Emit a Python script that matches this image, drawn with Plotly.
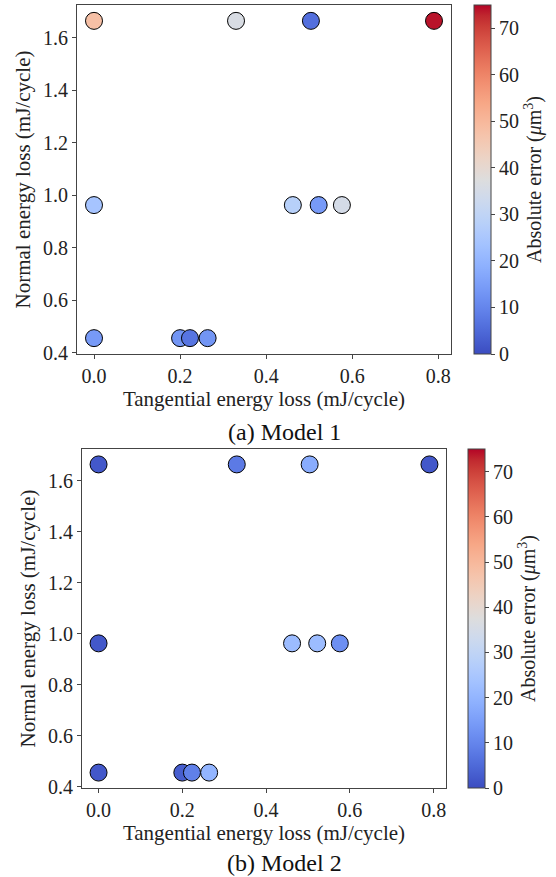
import plotly.graph_objects as go

# ---- data ----
tangential = [0.0, 0.33, 0.504, 0.79, 0.0, 0.462, 0.522, 0.576, 0.0, 0.20, 0.223, 0.264]
normal = [1.665, 1.665, 1.665, 1.665, 0.963, 0.963, 0.963, 0.963, 0.456, 0.456, 0.456, 0.456]
error_model1 = [48, 36, 6, 74, 24, 28, 14, 35, 14, 13, 7, 13]
error_model2 = [2, 8, 18, 2, 2, 22, 22, 12, 2, 3, 9, 20]
captions = ["(a) Model 1", "(b) Model 2"]
xticks = [0.0, 0.2, 0.4, 0.6, 0.8]
yticks = [0.4, 0.6, 0.8, 1.0, 1.2, 1.4, 1.6]
cbar_ticks = [0, 10, 20, 30, 40, 50, 60, 70]
cmin, cmax = 0, 75

W, H = 556, 877
FONT = "Liberation Serif, Times New Roman, serif"

coolwarm_rgb = [
    (59, 76, 192), (68, 90, 204), (77, 104, 215), (87, 117, 225), (98, 130, 234),
    (108, 142, 241), (119, 154, 247), (130, 165, 251), (141, 176, 254), (152, 185, 255),
    (163, 194, 255), (174, 201, 253), (184, 208, 249), (194, 213, 244), (204, 217, 238),
    (213, 219, 230), (221, 221, 221), (229, 216, 209), (236, 211, 197), (241, 204, 184),
    (245, 196, 172), (247, 187, 159), (247, 177, 147), (247, 167, 134), (244, 154, 123),
    (241, 141, 111), (236, 127, 99), (229, 112, 89), (222, 96, 78), (213, 80, 68),
    (203, 62, 56), (192, 40, 47), (180, 4, 38)]
n = len(coolwarm_rgb) - 1
coolwarm = [[i / n, "rgb(%d,%d,%d)" % c] for i, c in enumerate(coolwarm_rgb)]


def padded(vals, frac=0.05):
    lo, hi = min(vals), max(vals)
    p = (hi - lo) * frac
    return [lo - p, hi + p]


xr = padded(tangential)
yr = padded(normal)

# pixel boxes
panels = [
    dict(l=77, r=451, t=5, b=354, cbl=474, cap_y=432),
    dict(l=82, r=446, t=449, b=788, cbl=468, cap_y=863),
]

fig = go.Figure()
errs = [error_model1, error_model2]
for i, p in enumerate(panels):
    k = "" if i == 0 else str(i + 1)
    ca = "coloraxis" + k
    fig.add_trace(go.Scatter(
        x=tangential, y=normal, mode="markers",
        xaxis="x" + k, yaxis="y" + k,
        marker=dict(size=17, color=errs[i], coloraxis=ca,
                    line=dict(color="black", width=1)),
        showlegend=False, hoverinfo="skip"))
    xd = [p["l"] / W, p["r"] / W]
    yd = [1 - p["b"] / H, 1 - p["t"] / H]
    axcommon = dict(showline=True, mirror=True, linecolor="#444", linewidth=1,
                    ticks="outside", ticklen=4, tickcolor="#444", showgrid=False,
                    zeroline=False, tickfont=dict(family=FONT, size=20, color="#222"))
    fig.update_layout(**{
        "xaxis" + k: dict(domain=xd, range=xr, anchor="y" + k, tickvals=xticks,
                          ticktext=["%.1f" % v for v in xticks],
                          title=dict(text="Tangential energy loss (mJ/cycle)",
                                     font=dict(family=FONT, size=21, color="#222"), standoff=2),
                          **axcommon),
        "yaxis" + k: dict(domain=yd, range=yr, anchor="x" + k, tickvals=yticks,
                          ticktext=["%.1f" % v for v in yticks],
                          title=dict(text="Normal energy loss (mJ/cycle)",
                                     font=dict(family=FONT, size=21, color="#222"), standoff=6),
                          **axcommon),
        ca: dict(cmin=cmin, cmax=cmax, colorscale=coolwarm,
                 colorbar=dict(x=p["cbl"] / W, xanchor="left", xref="paper",
                               y=(yd[0] + yd[1]) / 2, yanchor="middle",
                               len=yd[1] - yd[0], lenmode="fraction",
                               thickness=17, outlinewidth=1, outlinecolor="#444",
                               ticks="outside", ticklen=4, tickcolor="#444",
                               tickvals=cbar_ticks, xpad=0, ypad=0,
                               tickfont=dict(family=FONT, size=20, color="#222"),
                               title=dict(text="Absolute error (<i>μ</i>m<sup>3</sup>)",
                                          side="right",
                                          font=dict(family=FONT, size=20, color="#222"))))
    })
    fig.add_annotation(text=captions[i], x=(p["l"] + p["r"]) / 2 / W + 0.036,
                       y=1 - p["cap_y"] / H, xref="paper", yref="paper",
                       showarrow=False, font=dict(family=FONT, size=24, color="#111"),
                       xanchor="center", yanchor="middle")

fig.update_layout(width=W, height=H,
                  margin=dict(l=0, r=0, t=0, b=0, autoexpand=False),
                  paper_bgcolor="white", plot_bgcolor="white")
fig.write_html("out.html", config={"displayModeBar": False},
               post_script="document.body.style.margin='0';document.body.style.overflow='hidden';")
